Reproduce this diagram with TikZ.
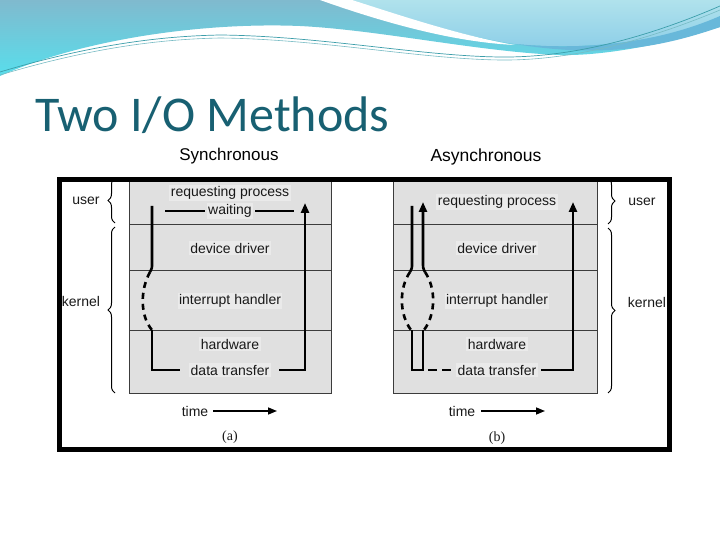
\documentclass[tikz,border=0pt]{standalone}
\usepackage{fontspec}
\setmainfont{Liberation Sans}
\newfontfamily\titlefont{Carlito}
\newfontfamily\capfont{Liberation Serif}
\usetikzlibrary{arrows.meta,decorations.pathreplacing}
\definecolor{titlecol}{RGB}{24,96,114}
\definecolor{boxfill}{RGB}{224,224,224}
\definecolor{patch}{RGB}{234,234,234}
\definecolor{rulecol}{RGB}{60,60,60}
\definecolor{txt}{RGB}{25,25,25}
\definecolor{tealtop}{RGB}{128,186,206}
\definecolor{tealbot}{RGB}{88,222,236}
\definecolor{lightblue}{RGB}{176,226,236}
\definecolor{lightblue2}{RGB}{140,206,232}
\definecolor{lens}{RGB}{104,184,218}
\definecolor{waveline}{RGB}{60,158,170}
\begin{document}
\begin{tikzpicture}[x=1pt,y=-1pt,
  lbl/.style={font=\fontsize{14}{16}\selectfont, text=txt, inner sep=1.5pt, fill=patch},
  side/.style={font=\fontsize{14}{16}\selectfont, text=txt, inner sep=0pt},
  capt/.style={font=\capfont\fontsize{14}{16}\selectfont, text=txt, inner sep=0pt},
  flow/.style={line width=2.6pt, black, line join=miter},
  flowarr/.style={flow, -{Triangle[length=10pt,width=8pt]}},
  dflow/.style={flow, dash pattern=on 6pt off 5pt},
  timearr/.style={line width=1.5pt, black, -{Triangle[length=9pt,width=7pt]}},
  waitln/.style={line width=1.6pt, black},
  rowbox/.style={draw=rulecol, line width=1.1pt, fill=boxfill, inner sep=0pt, anchor=north west},
  brc/.style={decorate, decoration={brace, amplitude=7pt}, line width=1pt, black},
]
\useasboundingbox (0,0) rectangle (720,540);
\fill[white] (0,0) rectangle (720,540);

% ---------- header waves ----------
\shade[top color=tealtop, bottom color=tealbot]
  (0,0) -- (720,0) -- (720,27) .. controls (660,46) and (600,56) .. (560,55)
  .. controls (480,52) and (380,30) .. (300,26)
  .. controls (200,22) and (80,40) .. (0,76) -- cycle;
\shade[top color=lightblue, bottom color=lightblue2]
  (350,0) -- (720,0) -- (720,20) .. controls (650,44) and (580,50) .. (515,44)
  .. controls (460,36) and (400,16) .. (350,0) -- cycle;
\fill[white] (320,0) -- (352,0) .. controls (402,16) and (462,36) .. (515,45)
  .. controls (452,42) and (382,22) .. (320,0) -- cycle;
\fill[lens] (515,44) .. controls (600,52) and (670,38) .. (720,16) -- (720,27)
  .. controls (660,48) and (600,58) .. (515,44) -- cycle;
\draw[waveline, line width=0.7pt] (0,72) .. controls (100,42) and (170,36) .. (220,35)
  .. controls (320,36) and (420,56) .. (500,57) .. controls (580,58) and (660,32) .. (720,6);
\draw[waveline!70, line width=0.6pt] (0,75) .. controls (100,45) and (170,39) .. (220,38)
  .. controls (320,39) and (420,59) .. (500,60) .. controls (580,61) and (660,35) .. (720,10);

% ---------- title ----------
\node[anchor=base west, inner sep=0pt, text=titlecol, font=\titlefont\fontsize{50}{56}\selectfont]
  (title) at (35,132) {Two I/O Methods};
\node[anchor=base, inner sep=0pt, text=black, font=\fontsize{17}{20}\selectfont]
  (sync) at (229,161) {Synchronous};
\node[anchor=base, inner sep=0pt, text=black, font=\fontsize{17.5}{20}\selectfont]
  (async) at (486,162) {Asynchronous};

% ---------- boxes (a) ----------
\node[rowbox, minimum width=202pt, minimum height=44pt] (ar1) at (129,180) {};
\node[rowbox, minimum width=202pt, minimum height=46pt] (ar2) at (129,224) {};
\node[rowbox, minimum width=202pt, minimum height=60pt] (ar3) at (129,270) {};
\node[rowbox, minimum width=202pt, minimum height=63pt] (ar4) at (129,330) {};
% ---------- boxes (b) ----------
\node[rowbox, minimum width=204pt, minimum height=44pt] (br1) at (393,180) {};
\node[rowbox, minimum width=204pt, minimum height=46pt] (br2) at (393,224) {};
\node[rowbox, minimum width=204pt, minimum height=60pt] (br3) at (393,270) {};
\node[rowbox, minimum width=204pt, minimum height=63pt] (br4) at (393,330) {};

% ---------- frame ----------
\draw[line width=5pt, black] (59.5,179.5) rectangle (669.5,449.5);

% ---------- labels (a) ----------
\node[lbl] (areq) at (230,193) {requesting process};
\node[lbl] (await) at (230,211) {waiting};
\node[lbl] (add) at (230,248) {device driver};
\node[lbl] (aih) at (230,301) {interrupt handler};
\node[lbl] (ahw) at (230,344) {hardware};
\node[lbl] (adt) at (230,370) {data transfer};
\node[side] (atime) at (195,411) {time};
\node[capt] (acap) at (230,437) {(a)};
\node[side] (auser) at (86,201) {user};
\node[side] (akern) at (81,301) {kernel};

% ---------- labels (b) ----------
\node[lbl] (breq) at (497,202) {requesting process};
\node[lbl] (bdd) at (497,248) {device driver};
\node[lbl] (bih) at (497,301) {interrupt handler};
\node[lbl] (bhw) at (497,344) {hardware};
\node[lbl] (bdt) at (497,370) {data transfer};
\node[side] (btime) at (462,411) {time};
\node[capt] (bcap) at (497,438) {(b)};
\node[side] (buser) at (642,202) {user};
\node[side] (bkern) at (647,302) {kernel};

% ---------- flow (a) ----------
\coordinate (aTop) at (152,206);
\coordinate (aMid1) at (150,272);
\coordinate (aMid2) at (152,330);
\coordinate (aBot) at (152,370);
\coordinate (aRight) at (305,203);
\draw[flow] (aTop) -- (152,264) .. controls (152,268) .. (aMid1);
\draw[dflow] (aMid1) .. controls (140,290) and (140,316) .. (aMid2);
\draw[flow] (aMid2) -- (aBot) -- ([xshift=-9pt]adt.west);
\draw[flowarr] ([xshift=8pt]adt.east) -| (aRight);
\draw[waitln] ([xshift=-2pt]await.west) -- (165,211);
\draw[waitln] ([xshift=2pt]await.east) -- (294,211);
\draw[timearr] ([xshift=5pt]atime.east) -- (277,411);

% ---------- flow (b) ----------
\coordinate (bL) at (412,206);
\coordinate (bLm) at (410,272);
\coordinate (bRm) at (425,272);
\coordinate (bLb) at (412,330);
\coordinate (bRb) at (423,330);
\coordinate (bRtop) at (423,202);
\coordinate (bEnd) at (573,202);
\coordinate (bDash) at (428,370);
\draw[flow] (bL) -- (412,264) .. controls (412,268) .. (bLm);
\draw[flowarr] (bRm) .. controls (423,268) .. (423,262) -- (bRtop);
\draw[dflow] (bLm) .. controls (399,288) and (399,314) .. (411,330);
\draw[dflow] (bRm) .. controls (436,288) and (436,314) .. (424,330);
\draw[flow] (bLb) -- (412,370) -- (423,370) -- (bRb);
\draw[flow, dash pattern=on 9pt off 5pt] (bDash) -- ([xshift=-5pt]bdt.west);
\draw[flowarr] ([xshift=3pt]bdt.east) -| (bEnd);
\draw[timearr] ([xshift=6pt]btime.east) -- (545,411);

% ---------- braces ----------
\coordinate (au1) at (115,223);
\coordinate (au2) at (115,178);
\coordinate (ak1) at (115,393);
\coordinate (ak2) at (115,227);
\draw[brc] (au1) -- (au2);
\draw[brc] (ak1) -- (ak2);
\coordinate (bu1) at (608,178);
\coordinate (bu2) at (608,224);
\coordinate (bk1) at (608,228);
\coordinate (bk2) at (608,393);
\draw[brc] (bu1) -- (bu2);
\draw[brc] (bk1) -- (bk2);
\end{tikzpicture}
\end{document}
